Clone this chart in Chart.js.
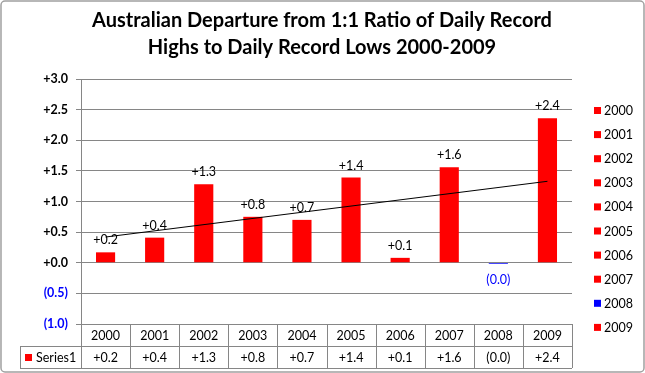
<!DOCTYPE html>
<html>
<head>
<meta charset="utf-8">
<script src="https://cdn.jsdelivr.net/npm/chart.js@4.4.0/dist/chart.umd.min.js"></script>
<style>
  html, body { margin: 0; padding: 0; background: #fff; }
  #wrap { width: 645px; height: 373px; }
</style>
</head>
<body>
<div id="wrap"><canvas id="chart" width="645" height="373"></canvas></div>
<script>
const years = ['2000', '2001', '2002', '2003', '2004', '2005', '2006', '2007', '2008', '2009'];
const departures = [0.17, 0.41, 1.28, 0.75, 0.70, 1.39, 0.08, 1.56, -0.02, 2.36];
const valueLabels = ['+0.2', '+0.4', '+1.3', '+0.8', '+0.7', '+1.4', '+0.1', '+1.6', '(0.0)', '+2.4'];
const barColors = ['#ff0000', '#ff0000', '#ff0000', '#ff0000', '#ff0000', '#ff0000', '#ff0000', '#ff0000', '#0000ff', '#ff0000'];
// trend line end points
const trendLine = [0.42, null, null, null, null, null, null, null, null, 1.33];
const titleLines = ['Australian Departure from 1:1 Ratio of Daily Record', 'Highs to Daily Record Lows 2000-2009'];
const seriesName = 'Series1';

const FONT = 'Lato, "Open Sans", sans-serif';
const GRID = '#868686';

const extras = {
  id: 'extras',
  beforeDraw(chart) {
    const c = chart.ctx;
    c.save();
    c.fillStyle = '#fff';
    c.fillRect(0, 0, chart.width, chart.height);
    c.strokeStyle = '#a0a0a0';
    c.lineWidth = 1.5;
    c.beginPath();
    c.roundRect(1, 1, chart.width - 2, chart.height - 2, 4);
    c.stroke();
    c.restore();
  },
  afterDraw(chart) {
    const c = chart.ctx;
    const area = chart.chartArea;
    const xs = chart.scales.x;
    const meta = chart.getDatasetMeta(0);
    c.save();

    // title
    c.fillStyle = '#000';
    c.textAlign = 'center';
    c.textBaseline = 'middle';
    c.font = 'bold 20px ' + FONT;
    c.fillText(titleLines[0], 322, 21);
    c.fillText(titleLines[1], 322, 48);

    // value labels
    c.font = '12.5px ' + FONT;
    meta.data.forEach((bar, i) => {
      if (departures[i] < 0) {
        c.fillStyle = '#0000ff';
        c.fillText(valueLabels[i], bar.x, bar.base + 17);
      } else {
        c.fillStyle = '#000';
        c.fillText(valueLabels[i], bar.x, bar.y - 12);
      }
    });

    // data table
    const colW = (area.right - area.left) / years.length;
    const rowTop = area.bottom;
    const rowMid = rowTop + 22;
    const rowBot = rowMid + 22;
    const tableLeft = 20;
    c.strokeStyle = GRID;
    c.lineWidth = 1;
    c.beginPath();
    c.moveTo(area.left, rowTop + 0.5); c.lineTo(area.right, rowTop + 0.5);
    c.moveTo(tableLeft, rowMid + 0.5); c.lineTo(area.right, rowMid + 0.5);
    c.moveTo(tableLeft, rowBot + 0.5); c.lineTo(area.right, rowBot + 0.5);
    c.moveTo(tableLeft + 0.5, rowMid); c.lineTo(tableLeft + 0.5, rowBot);
    for (let i = 0; i <= years.length; i++) {
      const x = Math.round(area.left + i * colW) + 0.5;
      c.moveTo(x, rowTop); c.lineTo(x, rowBot);
    }
    c.stroke();

    c.fillStyle = '#000';
    c.font = '12.5px ' + FONT;
    years.forEach((y, i) => {
      const cx = xs.getPixelForValue(i);
      c.fillText(y, cx, (rowTop + rowMid) / 2 + 1);
      c.fillText(valueLabels[i], cx, (rowMid + rowBot) / 2 + 1);
    });
    c.fillStyle = '#ff0000';
    c.fillRect(25, rowMid + 8, 7, 7);
    c.fillStyle = '#000';
    c.textAlign = 'left';
    c.fillText(seriesName, 36, (rowMid + rowBot) / 2 + 1);

    // legend on the right
    years.forEach((y, i) => {
      const ly = 110 + i * 24.1;
      c.fillStyle = barColors[i];
      c.fillRect(594, ly - 3, 7, 7);
      c.fillStyle = '#000';
      c.fillText(y, 604, ly + 1);
    });
    c.restore();
  }
};

new Chart(document.getElementById('chart'), {
  type: 'bar',
  data: {
    labels: years,
    datasets: [
      {
        label: seriesName,
        data: departures,
        backgroundColor: barColors,
        borderWidth: 0,
        categoryPercentage: 1,
        barPercentage: 0.39,
        order: 2
      },
      {
        type: 'line',
        label: 'Trend',
        data: trendLine,
        spanGaps: true,
        borderColor: '#000',
        borderWidth: 1,
        pointRadius: 0,
        order: 1
      }
    ]
  },
  options: {
    responsive: false,
    animation: false,
    layout: { padding: { left: 0, right: 73, top: 79, bottom: 49 } },
    plugins: {
      legend: { display: false },
      title: { display: false },
      tooltip: { enabled: false }
    },
    scales: {
      x: { display: false },
      y: {
        min: -1,
        max: 3,
        afterFit(scale) { scale.width = 81; },
        ticks: {
          stepSize: 0.5,
          padding: 8,
          font: { family: FONT, size: 12.5, weight: 'bold' },
          color: (ctx) => ctx.tick.value < 0 ? '#0000ff' : '#000',
          callback: (v) => v >= 0 ? '+' + v.toFixed(1) : '(' + Math.abs(v).toFixed(1) + ')'
        },
        grid: { color: GRID, tickLength: 5 },
        border: { color: GRID }
      }
    }
  },
  plugins: [extras]
});
</script>
</body>
</html>
